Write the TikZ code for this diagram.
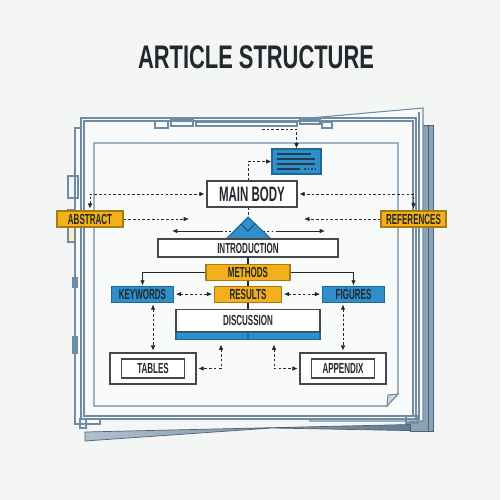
\documentclass[tikz,border=0pt]{standalone}
\usepackage{fontspec}
\newfontfamily\labelfont{Liberation Sans Bold}[FakeStretch=0.55]
\newfontfamily\titlefont{Liberation Sans Bold}[FakeStretch=0.67]
\usetikzlibrary{positioning,arrows.meta,calc}

\definecolor{paper}{HTML}{F4F5F5}
\definecolor{sheetfill}{HTML}{F9FAFA}
\definecolor{pageline}{HTML}{6F8CA4}
\definecolor{pagedark}{HTML}{8AA3B7}
\definecolor{amber}{HTML}{F2B01A}
\definecolor{amberedge}{HTML}{A87A12}
\definecolor{docblue}{HTML}{2E8FCB}
\definecolor{docblueedge}{HTML}{1D6896}
\definecolor{ink}{HTML}{23282D}

\begin{document}
\begin{tikzpicture}[
    x=0.02cm, y=-0.02cm,
    node distance=0.12cm and 0.8cm,
    wbox/.style={draw=ink!85, fill=white, line width=0.6pt, inner sep=0pt, align=center, font=\labelfont\fontsize{8.3}{9}\selectfont, text=ink},
    obox/.style={wbox, fill=amber, draw=amberedge, minimum height=0.32cm},
    bbox/.style={wbox, fill=docblue, draw=docblueedge, minimum height=0.32cm},
    sheet/.style={draw=pageline, line width=0.6pt},
    flow/.style={-{Latex[length=3pt,width=2.6pt]}, draw=ink, line width=0.5pt},
    link/.style={flow, dash pattern=on 1.5pt off 1.2pt},
    twolink/.style={link, {Latex[length=3pt,width=2.6pt]}-{Latex[length=3pt,width=2.6pt]}, shorten <=1pt, shorten >=1pt}
]

% background and title
\fill[paper] (0,0) rectangle (500,500);
\node[font=\titlefont\fontsize{18.6}{20}\selectfont, text=ink] (title) at (256,57.5) {ARTICLE STRUCTURE};

% stack of sheets
\shade[left color=pageline!55, right color=pageline!85!black] (85,432) -- (432,424) -- (432,431) -- (272,428) -- (85,441) -- cycle;
\draw[pageline!70!black, line width=0.4pt] (85,432) -- (432,424) -- (432,431) -- (272,428) -- (85,441) -- cycle;
\filldraw[fill=pagedark, draw=pageline!70!black, line width=0.5pt] (410,125) rectangle (433,431);
\draw[pageline!70!black, line width=0.5pt] (428,125) -- (428,431);
\filldraw[fill=sheetfill, sheet] (310,118) -- (423,108) -- (423,421) -- (310,421) -- cycle;
\draw[sheet] (419,112) -- (419,420);
\filldraw[fill=sheetfill, sheet] (75,128) rectangle (100,424);
\draw[sheet] (68,176) rectangle (78,198);
\filldraw[fill=amber!25, sheet] (68,210) rectangle (75,242);
\draw[sheet] (73,278) rectangle (77,287);
\draw[sheet] (73,337) rectangle (77,353);
\filldraw[fill=sheetfill, sheet] (81,118) rectangle (416,419);
\draw[sheet] (84,121) rectangle (413,416);
\draw[sheet] (80,419) rectangle (86,428);
\draw[sheet] (406,416) rectangle (418,423);

% tabs along the top edge
\draw[sheet] (155,121) rectangle (168,128);
\draw[sheet] (171,119) rectangle (193,126);
\draw[sheet] (196,122) rectangle (297,126);
\draw[sheet] (300,119) rectangle (320,124);
\draw[sheet] (322,122) rectangle (332,128);

% inner frame with folded corner
\filldraw[fill=sheetfill, sheet] (94,143) -- (398,143) -- (398,394) -- (387,406) -- (94,406) -- cycle;
\filldraw[fill=paper!70!pageline, sheet] (398,394) -- (388,395) -- (387,406) -- cycle;

% upper part
\node[wbox, minimum width=1.8cm, minimum height=0.52cm, font=\labelfont\fontsize{11.9}{13}\selectfont] (main_body) at (252,194) {MAIN BODY};
\node[bbox, minimum width=0.98cm, minimum height=0.5cm] (doc_icon) at (296.5,161.5) {};
\foreach \ly/\lx in {154/311, 159/315, 164/315, 169/300}
  \draw[ink!80!docblue, line width=0.7pt] (277,\ly) -- (\lx,\ly);
\draw[ink!80!docblue, line width=0.7pt, dash pattern=on 1pt off 1pt] (304,169) -- (315,169);
\node[obox, minimum width=1.32cm] (abstract) at (90,219) {ABSTRACT};
\node[obox, minimum width=1.3cm] (references) at (413.5,219) {REFERENCES};

% split under the main body
\coordinate (apex) at (248,217);
\coordinate (split_l) at (172,231);
\coordinate (split_r) at (325,231);
\coordinate (split_lin) at (221,231);
\coordinate (split_rin) at (276,231);
\draw[ink, line width=0.5pt, dash pattern=on 1pt off 1.4pt] (split_lin) -- (split_rin);
\filldraw[fill=docblue, draw=docblueedge, line width=0.6pt] (apex) -- (271,239) -- (226,239) -- cycle;
\draw[docblueedge!70!black, line width=0.5pt] (241,224) -- (248,231) -- (255,224);
\draw[flow] (split_lin) -- (split_l);
\draw[flow] (split_rin) -- (split_r);

% middle column
\node[wbox, minimum width=3.6cm, minimum height=0.36cm] (intro) at (248,248) {INTRODUCTION};
\node[obox, minimum width=1.68cm, below=of intro] (methods) {METHODS};
\node[obox, minimum width=1.34cm, below=0.1cm of methods] (results) {RESULTS};
\node[bbox, minimum width=1.24cm, left=of results] (keywords) {KEYWORDS};
\node[bbox, minimum width=1.24cm, right=of results] (figures) {FIGURES};
\node[wbox, minimum width=2.88cm, minimum height=0.44cm, below=of results] (discussion) {DISCUSSION};
\node[bbox, minimum width=2.88cm, minimum height=0.14cm, below=0pt of discussion] (disc_band) {};
\draw[docblueedge, line width=0.6pt] (disc_band.north) -- (disc_band.south);

% lower boxes
\node[wbox, minimum width=1.72cm, minimum height=0.62cm] (tables_frame) at (153,368.5) {};
\node[wbox, minimum width=1.26cm, minimum height=0.38cm] (tables) at (tables_frame.center) {TABLES};
\node[wbox, minimum width=1.72cm, minimum height=0.62cm] (appendix_frame) at (343,368.5) {};
\node[wbox, minimum width=1.26cm, minimum height=0.38cm] (appendix) at (appendix_frame.center) {APPENDIX};

% connectors
\coordinate (top_tab) at (262,129);
\coordinate (abstract_tip) at (189,219);
\coordinate (references_tip) at (304,219);
\draw[link] (top_tab) -| (doc_icon.north);
\draw[link] (main_body.north -| apex) |- (doc_icon.west);
\draw[twolink] (abstract.north) |- (main_body.west);
\draw[twolink] (references.north) |- (main_body.east);
\draw[link] (abstract.east) -- (abstract_tip);
\draw[link] (references.west) -- (references_tip);
\draw[link, -] (main_body.south -| apex) -- (apex);
\draw[ink, line width=0.6pt] (intro.south) -- (methods.north);
\draw[ink, line width=0.6pt] (methods.south) -- (results.north);
\draw[ink, line width=0.6pt] (results.south) -- (discussion.north);
\draw[flow] (methods.west) -| (keywords.north);
\draw[flow] (methods.east) -| (figures.north);
\draw[twolink] (keywords) -- (results);
\draw[twolink] (results) -- (figures);
\draw[twolink] (keywords.south -| tables_frame.north) -- (tables_frame.north);
\draw[twolink] (figures.south -| appendix_frame.north) -- (appendix_frame.north);
\draw[twolink] ($(disc_band.south)+(-27,3)$) |- (tables_frame.east);
\draw[twolink] ($(disc_band.south)+(26,3)$) |- (appendix_frame.west);

\end{tikzpicture}
\end{document}
